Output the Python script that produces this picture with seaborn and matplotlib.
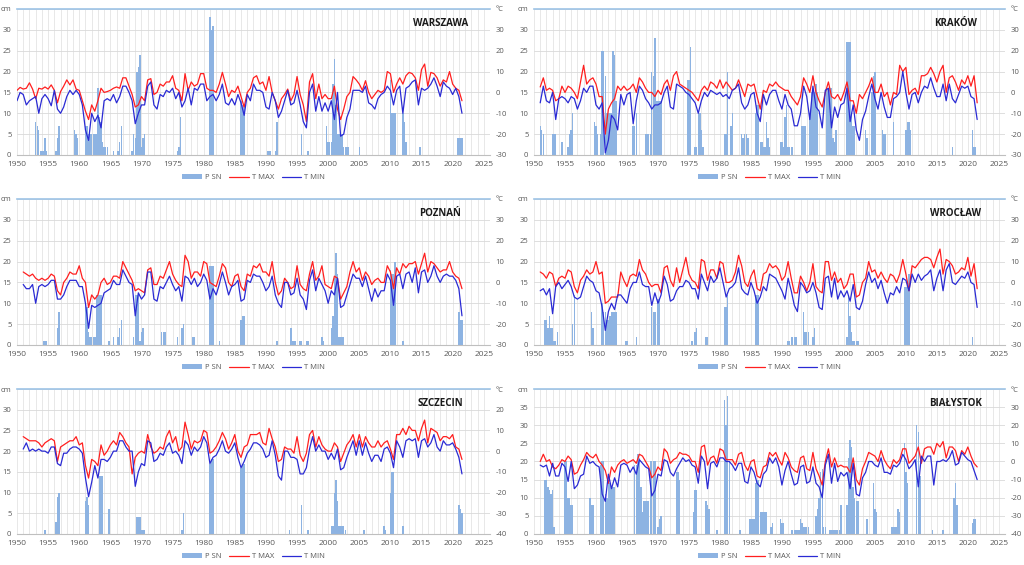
import numpy as np
import matplotlib.pyplot as plt
import matplotlib.ticker as mticker
from matplotlib.patches import Patch
from matplotlib.lines import Line2D
import seaborn as sns

sns.set_style('white')
plt.rcParams['font.family'] = ['Open Sans', 'DejaVu Sans']

# temperatures (deg C), two readings per year starting at *_start
# snow cover (cm), runs of quarter-year readings keyed by first date

warszawa_start = 1950.0
warszawa_tmax = [
    1, 2.4, 1.6, 2, 4.6, 1.6, -3, 2, 1.6, 2.6, 1.6, 3.6, 1, -5, 0.4, 3, 6, 3.6, 6, 1.6,
    1, -4, -9, -13, -6, -9, -4, 2, 0, 0.4, 1, 2, 2.6, 2, 7, 7, 3, -1, -7, -6,
    -2, -4, 6, 6.6, -1, 0, 4, 3, 5, 5, 8, 2, 1, -4, 9, 1, 5, 3, 4, 9,
    9, 2, 1, 1, 0, 4, 9.6, 4, -2, 1, 0, 3, -2, -7, 0, 2, 7, 8, 4, 5,
    1, 7.6, 0, -4, -8, -3, -1, 1.6, -4, -1, 7.6, -1, -6, -14, 5, 9, -3, 4, -3, -1,
    -3, -3, 3, -8, -13, -8, -2, 0, 7.6, 6, 4, 1, 5.6, 0, -3, -1, 1, 0, 1, 10,
    9, 0, 4, 7, 4, 8, 9.6, 9, 7, 1, 11, 13.6, 3, 9.6, 9, 7, 3, 6, 5, 10,
    4, 2, 1, -4]
warszawa_tmin = [
    -4, 0, -1, -6, -4, -3, -2, -10, -3, -1, -3, -6.4, 1, -8, -10, -7, -2, 1, -1, 1,
    -1, -6, -18, -23, -10, -14, -11, -17, -4, -3, -4, -1, -5, -2, 3, 3, 0, -4, -15, -10,
    -6, -6, 3, 5, -6, -8, -1, -2, 1, 0, 2, -3, 0, -7, -4, 2, -6, 2, 1, 4,
    4, -4, -2, -1, -4, -1, 4, -5, -6, -3, -6, -1, -5, -11, -1, -4, 4, 1, 1, 0,
    -7, -8, 0, -4, -12, -9, -4, 1, -6, -5, 1, -6, -14, -17, 0, 4, -9, -2, -9, -5,
    -9, -4, -13, 0, -21, -20, -12, -8, 1, 1, 1, 0, 3, -5, -6, -8, -3, -1, 0, 3,
    1, -6, 1, 3, -10, 2, 3, 5, 6, -6, 2, 1, 2, 4, 7, 3, -2, 5, 3, 2,
    -1, 2, -2, -10]
warszawa_snow = {
    1953.0: [8, 7, 6, 1, 1, 1], 1954.5: [4, 1], 1956.25: [1, 4, 7],
    1959.25: [6, 5, 4], 1961.0: [7, 7, 5, 5, 5, 5, 5, 5, 16, 9, 8, 3, 2, 2, 2],
    1965.5: [1], 1966.25: [1, 3, 7], 1968.5: [1, 5, 4, 20, 21, 24, 2, 4, 5],
    1975.75: [1, 2, 9], 1981.0: [33, 30, 31], 1986.0: [13, 12, 12],
    1990.25: [1, 1, 1], 1991.5: [1, 8], 1995.75: [5], 1996.75: [1],
    1999.75: [7, 3, 3, 3, 17, 23, 12, 5, 5, 5, 5, 2, 2, 2, 2],
    2005.0: [2], 2010.0: [18, 10, 10, 10], 2012.0: [10, 8, 3], 2014.75: [2],
    2020.75: [4, 4, 4, 4]}

krakow_start = 1951.0
krakow_tmax = [
    2.6, 7, 1, 2, 1, -4, -3, 3, 0, 3, 2, 0, -3, 5, 13, 4, 6, 7,
    4, -2, -2, -20, -8, -5, -3, 3, 1, 3, 1, 2, 4, 0, 7, 5, 2, 0, 0, -2,
    1, -1, 4, 6, 1, 8, 10, 4, 3, 2, 1, 0, -2, -4, 1, 3, 1, 5, 4, 2,
    6, 2, 5, 3, 1, 2, 6, 2, -2, 4, 3, 4, -2, -8, 1, 0, 4, 3, 5, 3,
    2, 1, 1, -2, -4, -6, -2, 7, 4, 0, 8, 0, -4, -7, 0, 5, -2, -3, -1, -4,
    0, 5, -4, -4, -10, -1, -3, 0, 3, 7, 0, 0, 4, -2, 0, -6, 0, -1, 13, 10,
    12, -1, 1, 2, -1, 8, 8, 9, 12, 9, 5, 10, 13, 0, 7, 8, 5, 1, 6, 4,
    8, 3, 8, -5]
krakow_tmin = [
    -5, 3, -4, -5, 0, -13, -3, -2, -3, -5, -2, -3, -8, -4, 2, 0, 3, 3,
    -6, -8, -5, -29, -23, -11, -13, -18, -1, -6, -1, 0, -15, -4, 3, 1, -3, -5, -8, -6,
    -6, -5, 0, 3, -7, -8, 4, 3, 2, 0, -1, -3, -5, -10, -4, 0, -2, 1, 0, -1,
    0, -2, -1, -3, 1, 2, 4, -5, -8, -6, -1, 0, -10, -14, -1, -6, -1, 1, 1, -4,
    -8, -1, -6, -8, -16, -16, -10, 3, -2, -13, 3, -7, -9, -17, 1, 2, -17, -7, -12, -6,
    -5, 2, -14, -6, -18, -23, -13, -9, -2, 4, -3, -8, 0, -7, -12, -12, -3, -2, 0, 10,
    0, -8, -1, 0, -5, 0, 3, 2, 7, 2, -2, -2, 4, -4, 4, -3, -5, -1, 3, 2,
    3, -2, -3, -13]
krakow_snow = {
    1951.0: [7, 6, 5], 1953.0: [5, 5, 5], 1954.5: [3], 1955.5: [2, 5, 6, 10],
    1959.75: [8, 7, 5], 1960.75: [5, 25, 25, 19, 10, 10, 10, 10, 25, 24, 13],
    1966.0: [7, 7, 10], 1968.0: [5, 5, 5, 5], 1969.0: [20, 19, 28, 13, 13, 13, 13],
    1974.75: [18, 18, 26], 1976.0: [2, 2, 10, 10, 6, 2], 1980.75: [5, 5, 20],
    1981.75: [7, 10], 1983.5: [5, 4, 5, 5, 4],
    1985.75: [10, 12, 12, 3, 3, 2, 2, 8, 4, 2], 1989.75: [3, 3, 2],
    1990.5: [9, 12, 2, 2, 2, 2], 1993.25: [7, 7, 7], 1994.5: [10, 15, 15, 15, 17, 15],
    1997.25: [16, 16, 16, 16, 4, 3, 6], 2000.5: [27, 27, 27, 10, 7, 7],
    2003.5: [6, 4], 2004.5: [15, 19, 20], 2006.25: [6, 5, 5], 2008.0: [8],
    2010.0: [6, 8, 8, 6], 2017.5: [2], 2020.75: [6, 2, 2]}

poznan_start = 1951.0
poznan_tmax = [
    5, 4, 3, 4, 2, 1, 2, 1, 2, 4, 3, -4, -6, 0, 2, 5, 4, 4,
    8, 2, 0, -12, -6, -8, -6, 0, 2, -1, 0, 3, 3, 2, 10, 7, 4, 1, -4, -3,
    -4, -5, 6, 7, -1, -1, 3, 2, 6, 10, 4, 1, -1, -2, 13, 10, 2, 5, 5, 3,
    10, 9, 0, -1, -2, 3, 9, 7, 0, -2, 3, 4, -2, -4, 4, 3, 8, 7, 9, 5,
    5, 3, 10, 0, -6, -4, 2, 0, -3, -2, 8, -1, -3, -4, 4, 10, 1, 3, 8, -1,
    -2, -3, 3, 2, -8, -5, -2, 5, 10, 5, 7, 1, 5, 3, -1, 1, 2, 0, 0, 8,
    5, -3, 7, 4, 9, 7, 9, 9, 10, 4, 9, 14, 5, 10, 9, 7, 5, 6, 6, 10,
    5, 3, 2, -3]
poznan_tmin = [
    -1, -3, -3, -1, -10, -2, -1, -2, -1, 1, 1, -8, -8, -6, -2, 1, 1, 1,
    -2, -2, -10, -22, -11, -12, -11, -10, -5, -4, -3, 1, -1, -1, 6, 3, 0, -1, -16, -5,
    -8, -6, 5, 5, -8, -9, -2, -3, 0, 3, -1, -4, -2, -9, 3, 2, -1, 2, -2, 0,
    4, 1, -8, -3, -6, -1, 5, 0, -6, -2, -1, 1, -9, -8, 1, 0, 4, 3, 3, 0,
    -4, -2, 3, -6, -10, -12, 0, 0, -6, -5, 2, -6, -8, -13, 1, 6, -4, 2, -1, -4,
    -10, -4, -6, 2, -12, -11, -6, -1, 4, 2, 2, -2, 3, -3, -9, -3, -7, -4, -4, 4,
    1, -11, 3, 4, -3, 4, 5, 0, 7, -5, 5, 6, 0, 3, 8, 3, 0, 3, 4, 3,
    3, 1, -3, -16]
poznan_snow = {
    1954.25: [1, 1, 1], 1956.5: [4, 8], 1961.0: [10, 9, 3, 2, 2, 2, 2, 12, 12, 12, 12],
    1964.75: [1], 1965.5: [2], 1966.25: [2, 4, 6], 1968.75: [2, 12, 12, 12, 1, 3, 4],
    1973.25: [3, 3, 3], 1975.75: [2], 1976.5: [4, 5], 1978.25: [2, 2],
    1981.0: [19, 19, 19], 1982.5: [1], 1986.0: [6, 7, 7], 1991.75: [1],
    1994.0: [4, 1, 1, 1], 1995.5: [1, 1], 1996.5: [1, 1], 1999.0: [2, 1],
    2000.5: [4, 7, 16, 22, 17, 2, 2, 2, 2], 2010.0: [18, 17, 17, 20],
    2012.0: [1], 2021.0: [8, 6, 6]}

wroclaw_start = 1951.0
wroclaw_tmax = [
    5, 4, 2, 5, 4, -2, 2, 3, 2, 6, 5, -2, -5, 1, 3, 6, 4, 5,
    10, 4, 5, -10, -9, -7, -7, -7, 5, 1, -2, 3, 4, 3, 11, 6, 4, 0, -2, -1,
    -1, -5, 7, 8, 1, -2, 7, 0, 6, 12, 4, 1, 0, -3, 11, 10, 1, 6, 6, 2,
    10, 9, 0, 0, 1, 5, 13, 8, 0, -2, 3, 6, -3, -4, 4, 5, 9, 7, 8, 6,
    1, 3, 10, 2, -5, -5, 3, 0, -4, 0, 9, -2, -4, -5, 10, 10, 1, 5, 0, 2,
    -3, -1, 4, 4, -7, -6, 0, 2, 10, 5, 6, 2, 5, 2, 0, 4, 3, 0, 4, 11,
    4, -4, 8, 7, 9, 11, 12, 12, 11, 7, 12, 16, 4, 11, 10, 8, 4, 5, 7, 6,
    12, 3, 9, -3]
wroclaw_tmin = [
    -4, -3, -6, -3, -15, -2, 0, -3, -1, 1, -2, -7, -8, -7, -2, 3, 1, 0,
    -4, -5, -12, -23, -14, -10, -13, -6, -6, -8, -10, -3, 0, 0, 5, -1, -2, -2, -11, -5,
    -10, -6, 3, -1, -9, -8, -4, -2, -2, 1, 0, -3, -3, -8, 4, 0, -4, 3, 0, 2,
    7, 0, -7, -3, -2, 0, 7, -3, -5, -6, 0, -4, -10, -7, -2, -4, 4, 3, 2, -1,
    -4, -8, 2, -4, -11, -14, 0, -2, -5, -4, 0, -5, -12, -13, 2, 3, -7, 2, -8, -4,
    -7, -4, -9, -1, -12, -13, -9, -1, 5, 0, 2, -3, 1, -5, -10, -5, -6, -2, -5, 2,
    1, -4, 4, 0, 4, 1, 3, 4, 6, -4, 2, 6, -4, 6, 9, 0, -1, 1, 3, 2,
    5, 0, -1, -12]
wroclaw_snow = {
    1951.75: [6, 6, 4, 7, 4, 4, 1, 1, 3], 1956.25: [5, 12], 1959.25: [8, 4],
    1961.0: [10, 8, 8, 6, 6, 7, 8, 8, 8, 8], 1964.75: [1, 1], 1966.5: [2],
    1969.0: [9, 8, 8, 0, 11, 11], 1975.5: [1], 1976.0: [3, 4], 1977.75: [2, 2],
    1980.75: [9, 9, 12], 1985.75: [12, 12, 12], 1991.0: [1, 1, 2, 2, 2, 2],
    1993.5: [8, 3, 3, 3], 1995.0: [2, 4], 2000.5: [2, 12, 7, 3, 1, 1, 1, 1],
    2009.75: [14, 14, 14, 17], 2020.75: [2]}

szczecin_start = 1951.0
szczecin_tmax = [
    7, 6, 5, 5, 5, 4, 2, 4, 5, 6, 5, -5, 2, 3, 4, 5, 5, 7,
    3, 4, -7, -13, -4, -5, -7, 3, -2, 0, 3, 5, 3, 9, 7, 4, 2, -11, -3, -1,
    0, -1, 8, 2, -1, 0, 2, 1, 7, 10, 4, 7, 0, 2, 14, 8, 1, 5, 4, 5,
    10, 9, -1, 0, 2, 5, 9, 6, 1, 4, 8, 0, -3, 2, 3, 8, 8, 8, 9, 4,
    3, 11, 6, 2, -5, -4, 2, 1, 1, -1, 7, -2, -5, -1, 8, 10, 2, 7, 3, 1,
    0, 0, 4, 2, -5, -1, 3, 5, 8, 2, 8, 2, 7, 4, 2, 2, 5, 2, 4, 5,
    1, -4, 8, 8, 11, 8, 12, 10, 10, 5, 11, 15, 4, 11, 10, 9, 5, 7, 7, 6,
    8, 2, 1, -4]
szczecin_tmin = [
    1, 4, 0, 1, 0, 1, 0, 0, -1, 2, 2, -6, -7, -1, -1, 1, 2, 2,
    1, -1, -13, -22, -15, -7, -13, -4, -4, -5, -3, 0, 0, 5, 5, 2, 0, 0, -17, -10,
    -6, -7, 5, 4, -5, -4, -1, -2, 2, 4, -1, 0, -2, -6, 5, 3, -2, 2, 0, 2,
    7, 4, -6, -3, -2, 1, 5, 0, -1, 1, 4, -3, -8, -5, -1, 1, 4, 4, 3, 1,
    -3, -2, 5, -2, -12, -14, 0, 0, -3, -3, -4, -11, -11, -8, 1, 7, 0, 3, 0, 0,
    -4, -1, -4, 1, -9, -8, -3, 1, 5, -2, 5, -2, 4, -1, -5, -2, -2, -5, 1, 2,
    -1, -8, 5, 2, -3, 5, 6, 5, 6, -3, 5, 6, 2, 4, 8, 2, 0, 5, 3, 3,
    4, 1, -3, -11]
szczecin_snow = {
    1954.5: [1], 1956.25: [3, 9, 10], 1961.0: [8, 9, 7], 1963.25: [14, 14, 14],
    1964.75: [6], 1969.25: [4, 4, 4, 1, 1, 1], 1976.5: [1, 5], 1981.0: [17, 18, 18],
    1986.0: [16, 17, 17], 1993.75: [1], 1995.75: [7], 1996.75: [1],
    2000.5: [2, 2, 10, 13, 8, 2, 2, 2, 2, 1], 2005.75: [1], 2009.0: [2, 1],
    2010.0: [10, 15, 15], 2012.0: [2], 2021.0: [7, 6, 5]}

bialystok_start = 1951.0
bialystok_tmax = [
    0, 4, 0, 1, -3, -4, -2, 1, 0, 3, 1, -7, -6, -2, 1, 5, 3, 2,
    4, 0, -2, -5, -12, -3, -6, -2, 0, 1, -1, 0, 1, -1, 4, 3, 0, -3, -9, -7,
    -3, -5, 7, 5, -1, 1, 2, 5, 4, 4, 3, 0, 0, -6, 8, 9, -2, 2, 3, -1,
    7, 6, 1, 1, 1, -2, 4, 5, -2, -5, 0, 1, -8, -9, -3, -2, 5, 3, 5, 1,
    -2, 5, 2, -3, -5, -6, 2, 3, -4, -5, 5, -4, -8, -13, 0, 7, -3, 2, -3, -2,
    -3, -3, -6, 2, -10, -13, -4, 0, 5, 4, 3, 0, 6, 1, -2, -4, 1, -1, 1, 7,
    7, -1, 1, 3, 8, -1, 7, 8, 8, 4, 10, 8, 11, 2, 8, 8, 6, 0, 6, 4,
    8, 3, -1, -3]
bialystok_tmin = [
    -2, -3, -2, -8, -1, -8, -8, -1, -3, -11, 0, -15, -13, -8, -7, 3, -1, 0,
    -2, -3, -18, -22, -7, -15, -9, -14, -2, -1, -2, -6, -3, -7, 1, -1, -3, -4, -19, -16,
    -7, -8, 1, 0, -6, -8, -4, -1, 2, 0, 1, -2, -3, -12, 3, 0, -15, -1, 0, -3,
    2, 2, 0, 0, -2, -5, -1, -1, -11, -12, -3, -6, -12, -14, -7, -5, 2, -1, 2, -3,
    -13, -5, 0, -7, -13, -12, -3, -2, -12, -11, -3, -12, -14, -20, -2, 4, -12, -1, -11, -6,
    -8, -6, -15, -1, -18, -19, -9, -6, 0, 0, -2, -3, 2, -6, -6, -7, -2, -3, -1, 4,
    1, -4, -2, 1, -14, 3, 0, 3, 3, -13, 0, 0, 1, 0, 2, 6, -2, -1, 5, 3,
    1, 0, -5, -10]
bialystok_snow = {
    1951.75: [15, 15, 13, 12, 11, 12, 2], 1955.0: [20, 20, 10, 10, 8, 8],
    1959.0: [10, 8, 8], 1960.75: [19, 20, 20, 11, 10, 15, 14, 13, 13, 13],
    1966.25: [19, 19, 22, 21, 13, 6, 9, 9, 9, 9, 20, 20, 20, 20],
    1970.0: [2, 4, 5], 1973.0: [17, 17, 15], 1975.75: [6, 12, 12],
    1977.75: [9, 8, 7], 1979.5: [1], 1980.75: [37, 30, 38, 20], 1983.25: [1],
    1984.75: [4, 4, 4, 4, 14, 15, 15, 6, 6, 6, 6, 6], 1988.25: [2, 3],
    1989.75: [4, 3, 3], 1991.5: [1, 1, 1, 1, 1, 1, 4, 3, 2, 2, 2, 2],
    1995.5: [5, 7, 10, 17, 18, 2, 2], 1997.75: [1, 1, 1, 1, 1, 1, 1, 8],
    2000.5: [8, 21, 26, 24, 13, 10, 9, 9], 2003.75: [4], 2004.75: [14, 7, 6],
    2007.75: [2, 2, 2, 2, 7, 6], 2009.75: [25, 17, 14], 2011.75: [30, 28, 16],
    2014.25: [1], 2016.0: [1], 2017.75: [10, 14, 8], 2020.75: [3, 4, 4]}

BAR_COLOR = '#8db3e2'
RED = '#ff1f1f'
BLUE = '#2a2ad4'
TXT = '#595959'


def expand_runs(runs):
    xs, hs = [], []
    for first, vals in runs.items():
        for i, v in enumerate(vals):
            xs.append(first + 0.25 * i)
            hs.append(v)
    return np.array(xs), np.array(hs)


fig = plt.figure(figsize=(10.24, 5.65), dpi=100)


def draw_panel(rect, name, snow, tmax, tmin, start, cm_top, t_range):
    ax = fig.add_axes(rect)
    ax2 = ax.twinx()

    bx, bh = expand_runs(snow)
    ax.bar(bx, bh, width=0.23, color=BAR_COLOR, linewidth=0, zorder=2)

    yrs_max = start + 0.5 * np.arange(len(tmax))
    yrs_min = start + 0.5 * np.arange(len(tmin))
    sns.lineplot(x=yrs_max, y=tmax, ax=ax2, color=RED, linewidth=0.9, legend=False)
    sns.lineplot(x=yrs_min, y=tmin, ax=ax2, color=BLUE, linewidth=0.9, legend=False)

    ax.set_xlim(1950, 2026)
    ax.set_ylim(0, cm_top)
    ax2.set_ylim(*t_range)
    ax.set_xticks(np.arange(1950, 2026, 5))
    ax.xaxis.set_minor_locator(mticker.MultipleLocator(1))

    cm_ticks = np.arange(0, cm_top + 1, 5)
    ax.set_yticks(cm_ticks)
    ax.set_yticklabels([str(t) for t in cm_ticks[:-1]] + ['cm'])
    t_ticks = np.arange(t_range[0], t_range[1] + 1, 10)
    ax2.set_yticks(t_ticks)
    ax2.set_yticklabels([str(t) for t in t_ticks[:-1]] + ['°C'])
    ax2.set_ylabel('')
    ax.set_xlabel('')

    ax.grid(which='major', axis='y', color='#d9d9d9', linewidth=0.6)
    ax.grid(which='both', axis='x', color='#e4e4e4', linewidth=0.6)
    ax.set_axisbelow(True)

    for s in ['left', 'right']:
        ax.spines[s].set_visible(False)
        ax2.spines[s].set_visible(False)
    ax2.spines['top'].set_visible(False)
    ax2.spines['bottom'].set_visible(False)
    ax.spines['top'].set_color('#9dc3e6')
    ax.spines['top'].set_linewidth(1.2)
    ax.spines['bottom'].set_color('#bfbfbf')
    ax.spines['bottom'].set_linewidth(0.8)

    ax.tick_params(axis='y', length=0, labelsize=5.5, labelcolor=TXT, pad=4)
    ax2.tick_params(axis='y', length=0, labelsize=5.5, labelcolor=TXT, pad=4)
    ax.tick_params(axis='x', which='both', length=2.5, color='#bfbfbf',
                   labelsize=6, labelcolor=TXT, pad=2)

    ax2.text(0.895, 0.9, name, transform=ax2.transAxes, ha='center', va='center',
             fontsize=7, fontweight='bold', color='#1a1a1a')

    handles = [Patch(facecolor=BAR_COLOR, edgecolor='none'),
               Line2D([], [], color=RED, linewidth=0.9),
               Line2D([], [], color=BLUE, linewidth=0.9)]
    ax.legend(handles, ['P SN', 'T MAX', 'T MIN'], loc='upper center',
              bbox_to_anchor=(0.5, -0.085), ncol=3, frameon=False, fontsize=5.5,
              handlelength=2.6, handleheight=0.6, columnspacing=1.0,
              handletextpad=0.4, labelcolor=TXT)


draw_panel([0.0166, 0.7257, 0.4619, 0.2584], 'WARSZAWA', warszawa_snow,
           warszawa_tmax, warszawa_tmin, warszawa_start, 35, (-30, 40))
draw_panel([0.5215, 0.7257, 0.4600, 0.2584], 'KRAKÓW', krakow_snow,
           krakow_tmax, krakow_tmin, krakow_start, 35, (-30, 40))
draw_panel([0.0166, 0.3894, 0.4619, 0.2584], 'POZNAŃ', poznan_snow,
           poznan_tmax, poznan_tmin, poznan_start, 35, (-30, 40))
draw_panel([0.5215, 0.3894, 0.4600, 0.2584], 'WROCŁAW', wroclaw_snow,
           wroclaw_tmax, wroclaw_tmin, wroclaw_start, 35, (-30, 40))
draw_panel([0.0166, 0.0549, 0.4619, 0.2566], 'SZCZECIN', szczecin_snow,
           szczecin_tmax, szczecin_tmin, szczecin_start, 35, (-40, 30))
draw_panel([0.5215, 0.0549, 0.4600, 0.2566], 'BIAŁYSTOK', bialystok_snow,
           bialystok_tmax, bialystok_tmin, bialystok_start, 40, (-40, 40))

plt.savefig('out.png', dpi=100)
